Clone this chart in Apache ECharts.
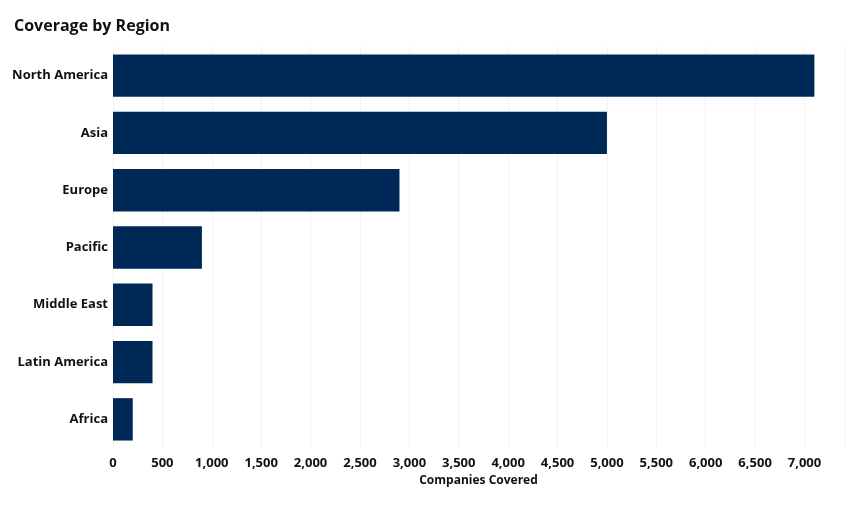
<!DOCTYPE html>
<html><head><meta charset="utf-8">
<style>html,body{margin:0;padding:0;background:#fff}#c{width:854px;height:512px}</style>
<script src="https://cdn.jsdelivr.net/npm/echarts@6/dist/echarts.min.js"></script></head>
<body><div id="c"></div>
<script>
const categories = ["North America","Asia","Europe","Pacific","Middle East","Latin America","Africa"];
const values = [7100,5000,2900,900,400,400,200];
const chart = echarts.init(document.getElementById('c'),null,{renderer:'canvas'});
const font = '"Open Sans","Noto Sans",sans-serif';
chart.setOption({
  animation:false,
  title:{text:'Coverage by Region',left:14,top:18,padding:0,textStyle:{fontFamily:font,fontSize:16,fontWeight:'bold',color:'#111'}},
  grid:{left:113,right:10,top:47,bottom:64,containLabel:false},
  xAxis:{type:'value',min:0,max:7400,interval:500,name:'Companies Covered',nameLocation:'middle',nameGap:27,
    nameTextStyle:{fontFamily:font,fontSize:12,fontWeight:'bold',color:'#111'},
    axisLine:{show:false},axisTick:{show:false},
    axisLabel:{fontFamily:font,fontSize:13,fontWeight:'bold',color:'#111',margin:9,showMaxLabel:false},
    splitLine:{show:true,lineStyle:{color:'#f2f2f2',width:1}}},
  yAxis:{type:'category',data:categories,inverse:true,
    axisLine:{show:false},axisTick:{show:false},
    axisLabel:{fontFamily:font,fontSize:13,fontWeight:'bold',color:'#111',margin:5}},
  series:[{type:'bar',data:values,barWidth:'74%',itemStyle:{color:'#002856'}}]
});
</script></body></html>
